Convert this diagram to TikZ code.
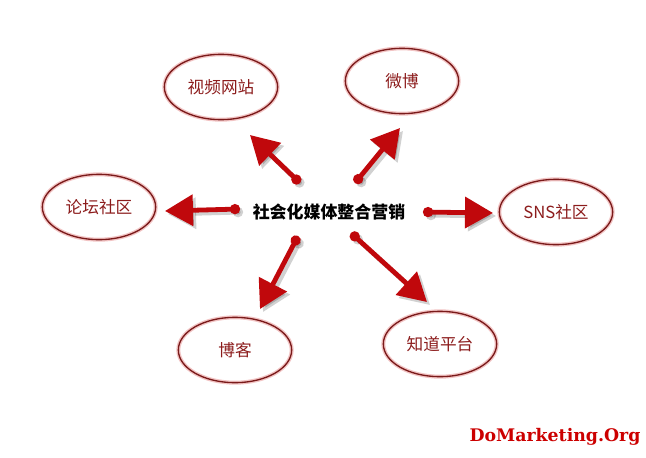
\documentclass[tikz,border=0pt]{standalone}
\usepackage{fontspec}
\newfontfamily\cjk{Noto Sans CJK SC}
\newfontfamily\brand{DejaVu Serif}
\usetikzlibrary{arrows.meta,shapes.geometric}
\definecolor{bubbleRed}{HTML}{7A1A1A}
\definecolor{textRed}{HTML}{8C1C1C}
\definecolor{arrowRed}{HTML}{C0080C}
\definecolor{glowPink}{HTML}{F2C4C4}
\definecolor{brandRed}{HTML}{CC0000}
\tikzset{
    bubble/.style={ellipse, draw=bubbleRed, line width=1pt, minimum width=85pt, minimum height=49pt, inner sep=0pt, text=textRed, font=\cjk\fontsize{12.5}{14}\selectfont, preaction={draw=glowPink, line width=3pt}},
    link/.style={draw=arrowRed, line width=3.6pt, {Circle[length=7.5pt]}-{Triangle[length=21pt,width=23pt]}},
    linkshadow/.style={draw=black, opacity=0.18, line width=3.6pt, {Circle[length=7.5pt]}-{Triangle[length=21pt,width=23pt]}}
}
\begin{document}
\begin{tikzpicture}[x=0.75pt,y=0.75pt,yscale=-1,xscale=1]
            \useasboundingbox[fill=white] (0,0) rectangle (646,457);
            %centre
            \node (core) at (329,212) {\cjk\bfseries\fontsize{12.7}{14}\selectfont 社会化媒体整合营销};
            %bubbles
            \node[bubble] (web) at (221,87) {视频网站};
            \node[bubble] (weibo) at (402,81) {微博};
            \node[bubble] (forum) at (99,207) {论坛社区};
            \node[bubble] (sns) at (556,212) {SNS社区};
            \node[bubble] (blog) at (235,350) {博客};
            \node[bubble] (zhidao) at (440,344) {知道平台};
            %arrow ends
            \coordinate (webS) at (300,183);   \coordinate (webT) at (250,135);
            \coordinate (weiboS) at (355,183); \coordinate (weiboT) at (400,128);
            \coordinate (forumS) at (240,209); \coordinate (forumT) at (165,211);
            \coordinate (snsS) at (423,212);   \coordinate (snsT) at (493,213);
            \coordinate (blogS) at (298,236);  \coordinate (blogT) at (260,309);
            \coordinate (zhidaoS) at (351,233); \coordinate (zhidaoT) at (427,302);
            %arrows
            \foreach \n in {web, weibo, forum, sns, blog, zhidao} {
                \draw[linkshadow] ([shift={(3,3)}]\n S) -- ([shift={(3,3)}]\n T);
                \draw[link] (\n S) -- (\n T);
            }
            %logo
            \node[text=brandRed, font=\brand\bfseries\fontsize{13}{15}\selectfont] (logo) at (555,437) {DoMarketing.Org};
        \end{tikzpicture}
\end{document}
